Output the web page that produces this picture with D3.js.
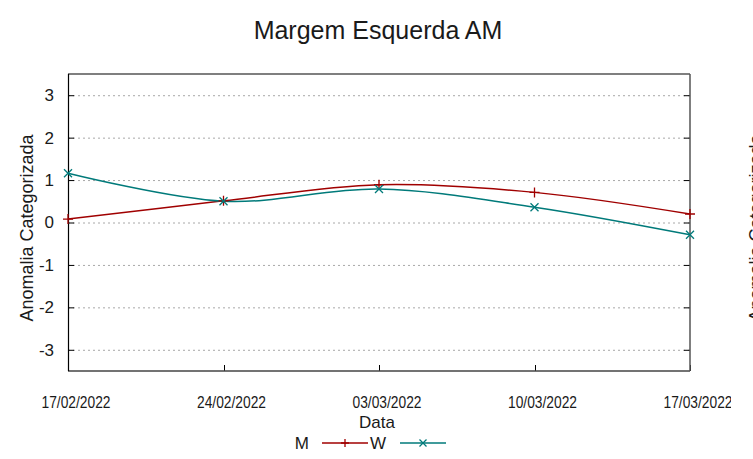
<!DOCTYPE html>
<html>
<head>
<meta charset="utf-8">
<script src="https://cdn.jsdelivr.net/npm/d3@7/dist/d3.min.js"></script>
<style>
  html, body { margin: 0; padding: 0; background: #fff; }
  svg { display: block; font-family: "Liberation Sans", Arial, sans-serif; }
</style>
</head>
<body>
<svg id="chart" width="753" height="459"></svg>
<script>
const dates = ["17/02/2022", "24/02/2022", "03/03/2022", "10/03/2022", "17/03/2022"];
const seriesM = [0.08, 0.51, 0.89, 0.71, 0.20];
const seriesW = [1.16, 0.50, 0.79, 0.36, -0.29];
const yTicks = [-3, -2, -1, 0, 1, 2, 3];
const seriesNames = ["M", "W"];
const titleText = "Margem Esquerda AM";
const yLabel = "Anomalia Categorizada";
const xLabel = "Data";

const parse = d3.timeParse("%d/%m/%Y");
const dateVals = dates.map(parse);

const svg = d3.select("#chart");
const L = 68, R = 690, T = 74, B = 371;

const x = d3.scaleTime().domain([dateVals[0], dateVals[dateVals.length - 1]]).range([L, R]);
const y = d3.scaleLinear().domain([-3.5, 3.5]).range([B, T]);

const colM = "#a00000";
const colW = "#007a7a";

svg.append("defs").append("clipPath").attr("id", "tickclip")
  .append("rect").attr("x", 0).attr("y", 380).attr("width", 731).attr("height", 40);

// grid
svg.append("g").selectAll("line").data(yTicks).join("line")
  .attr("x1", L).attr("x2", R)
  .attr("y1", d => y(d) + 0.5).attr("y2", d => y(d) + 0.5)
  .attr("stroke", "#a8a8a8").attr("stroke-width", 1).attr("stroke-dasharray", "2,3");

// ticks (inward)
const tg = svg.append("g");
tg.selectAll(".tl").data(yTicks).join("line")
  .attr("x1", L).attr("x2", L + 6)
  .attr("y1", d => y(d) + 0.5).attr("y2", d => y(d) + 0.5)
  .attr("stroke", "#000").attr("stroke-width", 1);
tg.selectAll(".tr").data(yTicks).join("line")
  .attr("x1", R - 6).attr("x2", R)
  .attr("y1", d => y(d) + 0.5).attr("y2", d => y(d) + 0.5)
  .attr("stroke", "#000").attr("stroke-width", 1);
tg.selectAll(".tb").data(dateVals).join("line")
  .attr("x1", d => Math.round(x(d)) + 0.5).attr("x2", d => Math.round(x(d)) + 0.5)
  .attr("y1", B).attr("y2", B - 6)
  .attr("stroke", "#000").attr("stroke-width", 1);

// y tick labels
svg.append("g").selectAll("text").data(yTicks).join("text")
  .attr("x", 54).attr("y", d => y(d))
  .attr("dy", "0.35em")
  .attr("text-anchor", "end")
  .attr("font-size", 17)
  .attr("fill", "#1a1a1a")
  .text(d => d);

// x tick labels
svg.append("g").attr("clip-path", "url(#tickclip)").selectAll("text").data(dateVals).join("text")
  .attr("x", d => x(d) + 8).attr("y", 408)
  .attr("text-anchor", "middle")
  .attr("font-size", 16)
  .attr("font-family", "'Liberation Sans Narrow', 'Liberation Sans', sans-serif")
  .attr("textLength", 69).attr("lengthAdjust", "spacingAndGlyphs")
  .attr("fill", "#1a1a1a")
  .text((d, i) => dates[i]);

// border
svg.append("line").attr("x1", L).attr("x2", R).attr("y1", T).attr("y2", T).attr("stroke", "#555").attr("stroke-width", 1.5);
svg.append("line").attr("x1", L).attr("x2", R).attr("y1", B).attr("y2", B).attr("stroke", "#444").attr("stroke-width", 1.5);
svg.append("line").attr("x1", R).attr("x2", R).attr("y1", T).attr("y2", B).attr("stroke", "#555").attr("stroke-width", 1.5);
svg.append("line").attr("x1", L + 0.5).attr("x2", L + 0.5).attr("y1", T).attr("y2", B).attr("stroke", "#000").attr("stroke-width", 1.2);

// lines
const line = d3.line().x((d, i) => x(dateVals[i])).y(d => y(d)).curve(d3.curveCatmullRom.alpha(0.5));
svg.append("path").datum(seriesM).attr("d", line).attr("fill", "none").attr("stroke", colM).attr("stroke-width", 1.5);
svg.append("path").datum(seriesW).attr("d", line).attr("fill", "none").attr("stroke", colW).attr("stroke-width", 1.5);

function plus(g, cx, cy, s, c) {
  g.append("path").attr("d", `M${cx - s},${cy}H${cx + s}M${cx},${cy - s}V${cy + s}`)
    .attr("stroke", c).attr("stroke-width", 1.3).attr("fill", "none");
}
function cross(g, cx, cy, s, c) {
  g.append("path").attr("d", `M${cx - s},${cy - s}L${cx + s},${cy + s}M${cx - s},${cy + s}L${cx + s},${cy - s}`)
    .attr("stroke", c).attr("stroke-width", 1.3).attr("fill", "none");
}
const mg = svg.append("g");
seriesM.forEach((v, i) => plus(mg, x(dateVals[i]), y(v), 5, colM));
seriesW.forEach((v, i) => cross(mg, x(dateVals[i]), y(v), 4, colW));

// title
svg.append("text").attr("x", 378).attr("y", 39).attr("text-anchor", "middle")
  .attr("font-size", 25).attr("fill", "#1a1a1a").text(titleText);

// y label
svg.append("text").attr("transform", "translate(33,228) rotate(-90)")
  .attr("text-anchor", "middle").attr("font-size", 18).attr("fill", "#1a1a1a").text(yLabel);
// clipped second y label at right edge
svg.append("text").attr("transform", "translate(762,228) rotate(-90)")
  .attr("text-anchor", "middle").attr("font-size", 18).attr("fill", "#1a1a1a").text(yLabel);

// x label
svg.append("text").attr("x", 377).attr("y", 428).attr("text-anchor", "middle")
  .attr("font-size", 17).attr("fill", "#1a1a1a").text(xLabel);

// legend
const lg = svg.append("g");
const ly = 443;
lg.append("text").attr("x", 309).attr("y", ly).attr("dy", "0.35em").attr("text-anchor", "end")
  .attr("font-size", 17).attr("fill", "#1a1a1a").text(seriesNames[0]);
lg.append("line").attr("x1", 322).attr("x2", 368).attr("y1", ly).attr("y2", ly).attr("stroke", colM).attr("stroke-width", 1.5);
plus(lg, 345, ly, 4, colM);
lg.append("text").attr("x", 386).attr("y", ly).attr("dy", "0.35em").attr("text-anchor", "end")
  .attr("font-size", 17).attr("fill", "#1a1a1a").text(seriesNames[1]);
lg.append("line").attr("x1", 400).attr("x2", 446).attr("y1", ly).attr("y2", ly).attr("stroke", colW).attr("stroke-width", 1.5);
cross(lg, 423, ly, 3.5, colW);
</script>
</body>
</html>
